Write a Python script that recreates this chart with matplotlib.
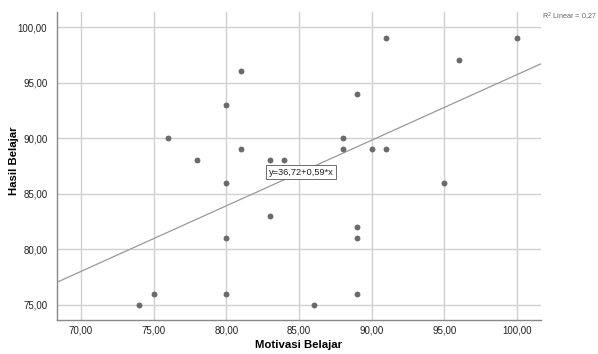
import matplotlib
matplotlib.use("Agg")
import matplotlib.pyplot as plt
import numpy as np

plt.rcParams['font.family'] = ['Liberation Sans', 'DejaVu Sans']

motivasi = [74, 75, 76, 78, 80, 80, 80, 80, 81, 81, 83, 84, 83, 86, 88, 88,
            89, 91, 90, 91, 89, 89, 89, 95, 96, 100]
hasil = [75, 76, 90, 88, 93, 86, 81, 76, 96, 89, 88, 88, 83, 75, 90, 89,
         94, 99, 89, 89, 82, 81, 76, 86, 97, 99]
intercept = 36.72
slope = 0.59
x_ticks = [70, 75, 80, 85, 90, 95, 100]
y_ticks = [75, 80, 85, 90, 95, 100]

def fmt(v):
    return f"{v:.2f}".replace('.', ',')

fig = plt.figure(figsize=(5.98, 3.54), dpi=100)
ax = fig.add_axes([57/598, 34/354, (541-57)/598, (320-12)/354])
ax.set_xlim(68.35, 101.65)
ax.set_ylim(73.65, 101.35)
ax.set_xticks(x_ticks)
ax.set_yticks(y_ticks)
ax.set_xticklabels([fmt(v) for v in x_ticks], fontsize=7, color='#222222')
ax.set_yticklabels([fmt(v) for v in y_ticks], fontsize=7, color='#222222')
ax.tick_params(axis='x', length=0, pad=4)
ax.tick_params(axis='y', length=0, pad=7)
ax.grid(True, color='#d0d0d0', linewidth=1)
ax.set_axisbelow(True)
for s in ['top', 'right']:
    ax.spines[s].set_visible(False)
for s in ['left', 'bottom']:
    ax.spines[s].set_color('#888888')
    ax.spines[s].set_linewidth(1)

xl = np.array(ax.get_xlim())
ax.plot(xl, intercept + slope * xl, color='#999999', linewidth=0.9, zorder=2)
ax.scatter(motivasi, hasil, s=18, color='#6b6b6b', zorder=3, linewidths=0)

ax.text(82.9, 86.95, "y=36,72+0,59*x", fontsize=6.7, va='center', ha='left',
        color='#222222',
        bbox=dict(boxstyle='square,pad=0.25', facecolor='white', edgecolor='#555555', linewidth=0.6),
        zorder=4)

fig.text(542/598, 1 - 17/354, "R$^2$ Linear = 0,27", fontsize=5.2, color='#666666', va='center', ha='left')

fig.text(299/598, 1 - 345/354, "Motivasi Belajar", fontsize=8.2, fontweight='bold',
         ha='center', va='center')
fig.text(14/598, 1 - 161/354, "Hasil Belajar", fontsize=8.2, fontweight='bold',
         ha='center', va='center', rotation=90)

fig.savefig("out.png", dpi=100)
